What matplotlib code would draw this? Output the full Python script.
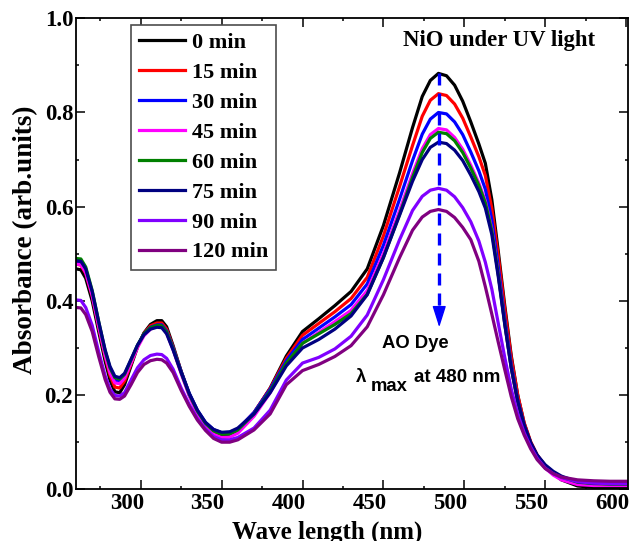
import matplotlib.pyplot as plt
from matplotlib.ticker import MultipleLocator
from matplotlib.transforms import ScaledTranslation

# wavelength grid (nm)
WAVELENGTH = [260, 263, 266, 270, 274, 278, 281, 284, 287, 290,
              294, 298, 302, 306, 310, 313, 316, 320, 325, 330,
              335, 340, 345, 350, 355, 360, 370, 380, 390, 400,
              410, 420, 430, 440, 450, 460, 468, 474, 479, 484,
              489, 494, 499, 504, 509, 513, 517, 521, 525, 529,
              533, 537, 541, 545, 550, 555, 560, 570, 580, 590,
              601]

ABS_0 = [0.468, 0.466, 0.448, 0.400, 0.335, 0.272, 0.232, 0.207, 0.205, 0.222,
         0.262, 0.302, 0.332, 0.350, 0.358, 0.358, 0.345, 0.305, 0.250, 0.200,
         0.163, 0.138, 0.122, 0.115, 0.116, 0.125, 0.162, 0.215, 0.283, 0.335,
         0.362, 0.390, 0.420, 0.468, 0.560, 0.672, 0.768, 0.834, 0.868, 0.883,
         0.878, 0.858, 0.824, 0.780, 0.733, 0.692, 0.615, 0.505, 0.390, 0.284,
         0.200, 0.140, 0.100, 0.072, 0.048, 0.033, 0.020, 0.007, 0.004, 0.003,
         0.003]
ABS_15 = [0.478, 0.476, 0.458, 0.410, 0.344, 0.282, 0.242, 0.217, 0.215, 0.230,
          0.266, 0.303, 0.331, 0.347, 0.353, 0.353, 0.340, 0.302, 0.250, 0.202,
          0.166, 0.140, 0.125, 0.118, 0.119, 0.127, 0.163, 0.214, 0.278, 0.327,
          0.352, 0.377, 0.405, 0.450, 0.538, 0.643, 0.730, 0.792, 0.826, 0.840,
          0.836, 0.818, 0.788, 0.748, 0.706, 0.666, 0.596, 0.495, 0.383, 0.280,
          0.200, 0.141, 0.101, 0.073, 0.050, 0.035, 0.024, 0.013, 0.010, 0.009,
          0.009]
ABS_30 = [0.480, 0.479, 0.462, 0.415, 0.350, 0.290, 0.253, 0.231, 0.229, 0.240,
          0.272, 0.305, 0.330, 0.344, 0.349, 0.349, 0.336, 0.300, 0.250, 0.204,
          0.168, 0.142, 0.127, 0.120, 0.121, 0.128, 0.163, 0.212, 0.273, 0.318,
          0.342, 0.366, 0.392, 0.436, 0.518, 0.616, 0.698, 0.754, 0.786, 0.800,
          0.797, 0.780, 0.753, 0.716, 0.676, 0.637, 0.572, 0.472, 0.362, 0.265,
          0.190, 0.136, 0.098, 0.071, 0.050, 0.035, 0.024, 0.013, 0.010, 0.009,
          0.009]
ABS_45 = [0.478, 0.477, 0.460, 0.412, 0.346, 0.284, 0.247, 0.226, 0.224, 0.236,
          0.268, 0.301, 0.326, 0.340, 0.346, 0.345, 0.332, 0.296, 0.245, 0.198,
          0.160, 0.133, 0.117, 0.110, 0.111, 0.119, 0.155, 0.205, 0.266, 0.310,
          0.333, 0.356, 0.380, 0.422, 0.500, 0.592, 0.670, 0.723, 0.753, 0.766,
          0.763, 0.747, 0.722, 0.688, 0.650, 0.612, 0.552, 0.457, 0.352, 0.258,
          0.185, 0.132, 0.095, 0.067, 0.045, 0.030, 0.020, 0.010, 0.008, 0.008,
          0.008]
ABS_60 = [0.490, 0.489, 0.472, 0.422, 0.356, 0.294, 0.258, 0.237, 0.234, 0.244,
          0.275, 0.306, 0.330, 0.343, 0.348, 0.347, 0.334, 0.298, 0.248, 0.202,
          0.166, 0.140, 0.124, 0.117, 0.118, 0.126, 0.160, 0.208, 0.268, 0.310,
          0.330, 0.350, 0.373, 0.414, 0.492, 0.584, 0.662, 0.715, 0.745, 0.758,
          0.755, 0.740, 0.715, 0.682, 0.645, 0.608, 0.549, 0.456, 0.352, 0.258,
          0.186, 0.134, 0.097, 0.071, 0.050, 0.036, 0.026, 0.015, 0.012, 0.011,
          0.011]
ABS_75 = [0.485, 0.484, 0.468, 0.420, 0.356, 0.296, 0.261, 0.240, 0.237, 0.246,
          0.276, 0.306, 0.328, 0.340, 0.344, 0.343, 0.330, 0.296, 0.248, 0.203,
          0.168, 0.142, 0.127, 0.121, 0.122, 0.130, 0.160, 0.205, 0.262, 0.300,
          0.318, 0.340, 0.368, 0.413, 0.492, 0.582, 0.654, 0.700, 0.726, 0.737,
          0.734, 0.720, 0.698, 0.667, 0.632, 0.597, 0.541, 0.451, 0.350, 0.258,
          0.187, 0.136, 0.099, 0.073, 0.052, 0.038, 0.028, 0.016, 0.013, 0.012,
          0.012]
ABS_90 = [0.402, 0.401, 0.386, 0.348, 0.292, 0.241, 0.213, 0.199, 0.198, 0.205,
          0.232, 0.258, 0.275, 0.284, 0.287, 0.286, 0.278, 0.255, 0.215, 0.180,
          0.150, 0.128, 0.112, 0.105, 0.105, 0.110, 0.130, 0.168, 0.232, 0.268,
          0.280, 0.298, 0.325, 0.370, 0.445, 0.530, 0.592, 0.622, 0.635, 0.639,
          0.635, 0.621, 0.598, 0.568, 0.527, 0.482, 0.425, 0.352, 0.280, 0.213,
          0.160, 0.120, 0.090, 0.066, 0.045, 0.033, 0.025, 0.016, 0.013, 0.012,
          0.012]
ABS_120 = [0.386, 0.385, 0.371, 0.335, 0.282, 0.233, 0.206, 0.192, 0.191, 0.198,
           0.222, 0.248, 0.265, 0.273, 0.276, 0.275, 0.268, 0.248, 0.210, 0.176,
           0.147, 0.125, 0.108, 0.100, 0.100, 0.105, 0.126, 0.160, 0.222, 0.252,
           0.265, 0.282, 0.305, 0.345, 0.413, 0.492, 0.550, 0.578, 0.590, 0.594,
           0.590, 0.577, 0.556, 0.530, 0.484, 0.430, 0.372, 0.312, 0.254, 0.197,
           0.150, 0.115, 0.086, 0.063, 0.044, 0.033, 0.026, 0.020, 0.018, 0.017,
           0.017]

SERIES = [ABS_0, ABS_15, ABS_30, ABS_45, ABS_60, ABS_75, ABS_90, ABS_120]
LABELS = ['0 min', '15 min', '30 min', '45 min', '60 min', '75 min', '90 min', '120 min']
COLORS = ['black', '#ff0000', '#0000ff', '#ff00ff', '#008000', '#000080', '#8000ff', '#800080']

LAMBDA_MAX = 484.5   # where the dashed arrow sits
ARROW_TOP = 0.883
ARROW_TIP = 0.344

SERIF = 'Liberation Serif'
SANS = 'Liberation Sans'

fig = plt.figure(figsize=(6.34, 5.41), dpi=100)
ax = fig.add_axes([0.1199, 0.0956, 0.8702, 0.8706])

for y, label, color in zip(SERIES, LABELS, COLORS):
    ax.plot(WAVELENGTH, y, color=color, lw=2.3, label=label, solid_joinstyle='round')

# dashed arrow marking lambda max
ax.plot([LAMBDA_MAX, LAMBDA_MAX], [ARROW_TOP, ARROW_TIP + 0.04], color='#0000ff',
        lw=2.4, linestyle=(0, (3.6, 2.4)))
ax.annotate('', xy=(LAMBDA_MAX, ARROW_TIP), xytext=(LAMBDA_MAX, ARROW_TIP + 0.045),
            arrowprops=dict(arrowstyle='-|>,head_length=1.1,head_width=0.35', color='#0000ff',
                            lw=1, mutation_scale=12, shrinkA=0, shrinkB=0))

ax.text(469.6, 0.300, 'AO Dye', fontfamily=SANS, fontweight='bold', fontsize=13.3, ha='center')
ax.text(436.2, 0.228, 'λ', fontfamily=SANS, fontweight='bold', fontsize=13.5, ha='center')
ax.text(442.3, 0.208, 'max', fontfamily=SANS, fontweight='bold', fontsize=13.3)
ax.text(469.0, 0.228, 'at 480 nm', fontfamily=SANS, fontweight='bold', fontsize=13.5)

ax.text(0.767, 0.941, 'NiO under UV light', transform=ax.transAxes, fontfamily=SERIF,
        fontweight='bold', fontsize=16.4, ha='center')

ax.set_xlim(260, 601)
ax.set_ylim(0, 1.0)
ax.xaxis.set_major_locator(MultipleLocator(50))
ax.xaxis.set_minor_locator(MultipleLocator(25))
ax.yaxis.set_major_locator(MultipleLocator(0.2))
ax.yaxis.set_minor_locator(MultipleLocator(0.1))
ax.yaxis.set_major_formatter(lambda v, pos: f'{v:.1f}')

ax.tick_params(which='both', direction='in', top=True, right=True, width=1.1)
ax.tick_params(which='major', length=6.5)
ax.tick_params(which='minor', length=2.5)
ax.tick_params(axis='x', pad=3)
ax.tick_params(axis='y', pad=2)
for lab in ax.get_xticklabels() + ax.get_yticklabels():
    lab.set_fontfamily(SERIF)
    lab.set_fontweight('bold')
    lab.set_fontsize(16.5)
# the x labels sit a bit left of their ticks in the original
shift = ScaledTranslation(-0.14, 0, fig.dpi_scale_trans)
for lab in ax.get_xticklabels():
    lab.set_transform(lab.get_transform() + shift)
for sp in ax.spines.values():
    sp.set_linewidth(1.3)

ax.set_xlabel('Wave length (nm)', fontfamily=SERIF, fontweight='bold', fontsize=18)
ax.set_ylabel('Absorbance (arb.units)', fontfamily=SERIF, fontweight='bold', fontsize=19.5)
ax.xaxis.set_label_coords(0.455, -0.066)
ax.yaxis.set_label_coords(-0.068, 0.53)

leg = ax.legend(loc='upper left', bbox_to_anchor=(0.0997, 0.986), borderaxespad=0,
                prop={'family': SERIF, 'weight': 'bold', 'size': 16}, fancybox=False,
                framealpha=1, edgecolor='0.3', handlelength=2.1, handletextpad=0.3,
                labelspacing=0.42, borderpad=0.35)
leg.get_frame().set_linewidth(1.2)

plt.savefig('out.png', dpi=100)
